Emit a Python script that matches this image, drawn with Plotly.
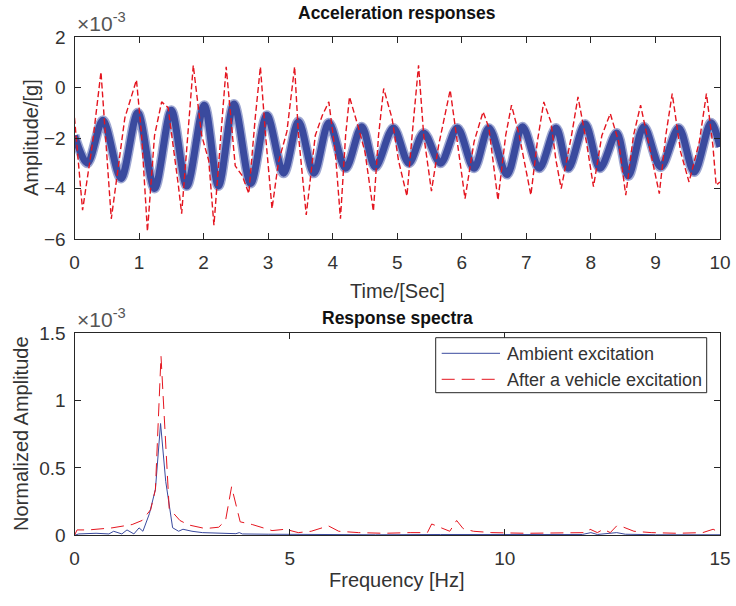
import plotly.graph_objects as go

# ---- Acceleration time histories (amplitude in units of 1e-3 g) ----
ambient_t = [0.0, 0.2, 0.44, 0.72, 0.98, 1.24, 1.5, 1.74, 2.01, 2.23, 2.47, 2.73, 2.98,
             3.24, 3.47, 3.71, 3.94, 4.2, 4.45, 4.66, 4.94, 5.18, 5.41, 5.67, 5.93,
             6.19, 6.42, 6.7, 6.94, 7.2, 7.46, 7.65, 7.91, 8.14, 8.4, 8.58, 8.82,
             9.08, 9.36, 9.6, 9.86, 10.0]
ambient_acc = [-1.9, -3.0, -1.3, -3.6, -1.0, -4.0, -0.9, -3.9, -0.7, -3.9, -0.65, -3.8,
               -1.1, -3.4, -1.35, -3.4, -1.4, -3.2, -1.55, -3.15, -1.6, -3.0, -1.8,
               -3.0, -1.6, -3.2, -1.6, -3.45, -1.55, -3.2, -1.6, -3.2, -1.45, -3.2,
               -1.8, -3.5, -1.55, -3.15, -1.6, -3.35, -1.4, -2.35]

vehicle_t = [0.0, 0.125, 0.28, 0.41, 0.57, 0.78, 0.96, 1.04, 1.13, 1.24, 1.35, 1.45,
             1.61, 1.66, 1.84, 1.97, 2.08, 2.16, 2.35, 2.49, 2.6, 2.7, 2.8, 2.88,
             2.96, 3.06, 3.16, 3.29, 3.41, 3.47, 3.59, 3.73, 3.84, 3.94, 4.04, 4.12,
             4.2, 4.26, 4.4, 4.5, 4.63, 4.71, 4.79, 4.92, 5.02, 5.15, 5.23, 5.33,
             5.41, 5.53, 5.64, 5.82, 5.93, 6.05, 6.19, 6.33, 6.42, 6.56, 6.68, 6.77,
             6.89, 7.07, 7.17, 7.27, 7.38, 7.46, 7.54, 7.7, 7.8, 7.93, 8.04, 8.17,
             8.3, 8.43, 8.54, 8.66, 8.77, 8.9, 9.06, 9.16, 9.26, 9.39, 9.52, 9.68,
             9.79, 9.89, 9.94, 10.0]
vehicle_acc = [-1.2, -4.86, -2.2, 0.62, -5.2, -1.2, 0.3, -1.9, -5.7, -1.9, -0.57, -0.8,
               -3.9, -5.0, 0.88, -1.9, -2.9, -5.45, 0.82, -3.1, -3.5, -4.2, -1.2, 0.82,
               -1.9, -4.8, -2.95, -1.75, 0.82, -1.9, -5.05, -1.9, -1.1, -0.57, -2.55,
               -5.2, -1.9, -0.37, -1.6, -2.55, -4.9, -1.9, -0.04, -1.23, -2.9, -4.3,
               -1.9, 0.88, -1.9, -4.1, -2.3, -0.1, -2.15, -4.4, -2.15, -0.96, -1.6,
               -4.46, -1.9, -0.7, -1.9, -4.26, -2.15, -0.57, -1.36, -2.9, -4.0, -1.9,
               -0.37, -2.15, -3.93, -1.9, -1.03, -2.15, -4.26, -1.9, -0.7, -2.3, -4.2,
               -1.9, -0.24, -2.55, -3.74, -2.15, -0.24, -2.3, -3.87, -3.74]

# ---- Response spectra (normalized amplitude in units of 1e-3) ----
ambient_f = [0.0, 0.1, 0.5, 0.8, 0.91, 1.1, 1.22, 1.38, 1.5, 1.59, 1.74, 1.88, 2.0,
             2.12, 2.28, 2.42, 2.52, 2.73, 2.97, 3.5, 3.75, 3.83, 3.9, 4.5, 5.5, 7.0,
             8.5, 10.0, 11.8, 12.0, 12.15, 12.6, 12.8, 13.5, 15.0]
ambient_spec = [0.0, 0.01, 0.015, 0.01, 0.03, 0.01, 0.04, 0.01, 0.055, 0.03, 0.16, 0.34,
                0.83, 0.40, 0.056, 0.03, 0.045, 0.03, 0.02, 0.015, 0.012, 0.02, 0.01,
                0.008, 0.005, 0.004, 0.006, 0.004, 0.006, 0.02, 0.006, 0.02, 0.008,
                0.004, 0.004]

vehicle_f = [0.0, 0.06, 0.33, 0.87, 1.34, 1.57, 1.77, 1.88, 2.01, 2.2, 2.45, 2.65, 3.04,
             3.35, 3.51, 3.65, 3.85, 4.13, 4.59, 4.9, 5.2, 5.5, 5.9, 6.14, 6.6, 7.2,
             7.8, 8.2, 8.3, 8.5, 8.72, 8.88, 9.03, 9.27, 9.7, 10.5, 11.5, 11.9, 11.98,
             12.15, 12.29, 12.45, 12.6, 12.76, 13.0, 13.4, 14.0, 14.6, 14.84, 15.0]
vehicle_spec = [0.0, 0.04, 0.04, 0.055, 0.08, 0.11, 0.19, 0.34, 1.33, 0.2, 0.11, 0.077,
                0.05, 0.06, 0.11, 0.36, 0.10, 0.08, 0.035, 0.045, 0.02, 0.03, 0.07,
                0.03, 0.02, 0.015, 0.02, 0.02, 0.084, 0.06, 0.03, 0.11, 0.05, 0.03,
                0.02, 0.015, 0.015, 0.02, 0.045, 0.02, 0.045, 0.02, 0.07, 0.06, 0.03,
                0.02, 0.015, 0.02, 0.045, 0.02]

time_ticks = list(range(0, 11))
acc_ticks = [-6, -4, -2, 0, 2]
freq_ticks = [0, 5, 10, 15]
spec_ticks = [0, 0.5, 1, 1.5]
spec_tick_text = ["0", "0.5", "1", "1.5"]

W, H = 736, 606
BLUE = "#3a4a9e"
BLUE_HALO = "rgba(62,80,165,0.5)"
RED = "#e4151f"
TXT = "#333333"
FONT = "Liberation Sans, Arial, sans-serif"


def px(x):
    return x / W


def py(y):
    return 1 - y / H


fig = go.Figure()

# ambient record: a soft edge under a thick core gives the band look of the noisy trace
fig.add_trace(go.Scatter(x=ambient_t, y=ambient_acc, mode="lines", name="Ambient excitation",
                         line=dict(color=BLUE_HALO, width=10, shape="spline", smoothing=0.9),
                         xaxis="x", yaxis="y", showlegend=False, hoverinfo="skip"))
fig.add_trace(go.Scatter(x=ambient_t, y=ambient_acc, mode="lines", name="Ambient excitation",
                         line=dict(color=BLUE, width=7, shape="spline", smoothing=0.9),
                         xaxis="x", yaxis="y", showlegend=False))
fig.add_trace(go.Scatter(x=vehicle_t, y=vehicle_acc, mode="lines",
                         name="After a vehicle excitation",
                         line=dict(color=RED, width=1.4, dash="6px,3px"),
                         xaxis="x", yaxis="y", showlegend=False))
fig.add_trace(go.Scatter(x=ambient_f, y=ambient_spec, mode="lines", name="Ambient excitation",
                         line=dict(color=BLUE, width=1),
                         xaxis="x2", yaxis="y2", showlegend=False))
fig.add_trace(go.Scatter(x=vehicle_f, y=vehicle_spec, mode="lines",
                         name="After a vehicle excitation",
                         line=dict(color=RED, width=1, dash="13px,7px"),
                         xaxis="x2", yaxis="y2", showlegend=False))

axis_common = dict(showline=True, linecolor="#262626", linewidth=1, mirror="ticks",
                   ticks="inside", ticklen=6, tickcolor="#262626", showgrid=False,
                   zeroline=False, automargin=False,
                   tickfont=dict(family=FONT, size=19, color=TXT))

x_dom = [px(74.5), px(720)]
fig.update_layout(
    width=W, height=H, margin=dict(l=0, r=0, t=0, b=0, pad=0),
    paper_bgcolor="white", plot_bgcolor="white",
    xaxis=dict(domain=x_dom, range=[0, 10], tickvals=time_ticks, anchor="y",
               ticklabelstandoff=6, **axis_common),
    yaxis=dict(domain=[py(239), py(37)], range=[-6, 2], tickvals=acc_ticks, anchor="x",
               ticklabelstandoff=4, **axis_common),
    xaxis2=dict(domain=x_dom, range=[0, 15], tickvals=freq_ticks, anchor="y2",
                ticklabelstandoff=6, **axis_common),
    yaxis2=dict(domain=[py(535.3), py(333.3)], range=[0, 1.5], tickvals=spec_ticks,
                ticktext=spec_tick_text, anchor="x2", ticklabelstandoff=4, **axis_common),
)

annotations = []


def text(x, y, s, size, color=TXT, bold=False, angle=0, xanchor="center", yanchor="middle"):
    annotations.append(dict(x=px(x), y=py(y), xref="paper", yref="paper", text=s,
                            showarrow=False, textangle=angle, xanchor=xanchor,
                            yanchor=yanchor,
                            font=dict(family=FONT, size=size, color=color,
                                      weight="bold" if bold else "normal")))


text(397, 13, "Acceleration responses", 17.5, color="#111111", bold=True)
text(397, 318, "Response spectra", 17.5, color="#111111", bold=True)
text(397, 291, "Time/[Sec]", 20)
text(397, 580, "Frequency [Hz]", 20)
text(31, 138, "Amplitude/[g]", 20, angle=-90)
text(21, 434, "Normalized Amplitude", 20, angle=-90)
text(75, 37, "×10<sup>-3</sup>", 21, color="#555555", xanchor="left", yanchor="bottom")
text(75, 333, "×10<sup>-3</sup>", 21, color="#555555", xanchor="left", yanchor="bottom")

# legend box for the spectra panel
text(505, 353.5, "Ambient excitation", 18, xanchor="left")
text(505, 379.5, "After a vehicle excitation", 18, xanchor="left")

shapes = [
    dict(type="rect", xref="paper", yref="paper", x0=px(435.7), x1=px(706.7),
         y0=py(392.7), y1=py(337.7), line=dict(color="#262626", width=1),
         fillcolor="white", layer="above"),
    dict(type="line", xref="paper", yref="paper", x0=px(441.7), x1=px(500),
         y0=py(353.3), y1=py(353.3), line=dict(color=BLUE, width=1)),
    dict(type="line", xref="paper", yref="paper", x0=px(441.7), x1=px(500),
         y0=py(379.3), y1=py(379.3), line=dict(color=RED, width=1, dash="13px,7px")),
]

fig.update_layout(annotations=annotations, shapes=shapes)
fig.write_html("out.html")
